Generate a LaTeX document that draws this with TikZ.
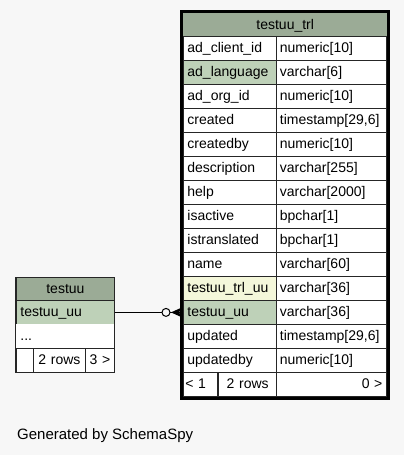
\documentclass[tikz,border=0pt]{standalone}
\usepackage{fontspec}
\setmainfont{Liberation Sans}
\definecolor{bg}{HTML}{F7F7F7}
\definecolor{hdr}{HTML}{9BAB96}
\definecolor{pk}{HTML}{BED1B8}
\definecolor{ex}{HTML}{F4F7DA}
\newcommand\fs{\fontsize{14bp}{16bp}\selectfont}
\newcommand\tabrow[5]{%
  \node[lcell,fill=#5] (#1n) at (183,#2) {#3};
  \node[rcell] (#1t) at (275.5,#2) {#4};}
\begin{document}
\begin{tikzpicture}[x=1bp,y=-1bp,
  cellbase/.style={draw=black!85, line width=0.8bp, minimum height=24bp, inner xsep=4bp, inner ysep=0pt,
    text height=11bp, text depth=2bp, anchor=north west, font=\fs, fill=white},
  lcell/.style={cellbase, text width=84.5bp, align=left},
  rcell/.style={cellbase, text width=102.5bp, align=left},
  hdrcell/.style={fill=hdr, inner sep=0pt, anchor=north west, font=\fs, text height=11bp, text depth=2bp},
  outline/.style={draw=black, line width=3bp},
  thinoutline/.style={draw=black!85, line width=1bp}
]
\fill[bg] (0,0) rectangle (404,455);
\useasboundingbox (0,0) rectangle (404,455);

% main table
\node[hdrcell, minimum width=204bp, minimum height=23bp] (trl) at (183,13) {testuu\_trl};
\tabrow{r1}{36}{ad\_client\_id}{numeric[10]}{white}
\tabrow{r2}{60}{ad\_language}{varchar[6]}{pk}
\tabrow{r3}{84}{ad\_org\_id}{numeric[10]}{white}
\tabrow{r4}{108}{created}{timestamp[29,6]}{white}
\tabrow{r5}{132}{createdby}{numeric[10]}{white}
\tabrow{r6}{156}{description}{varchar[255]}{white}
\tabrow{r7}{180}{help}{varchar[2000]}{white}
\tabrow{r8}{204}{isactive}{bpchar[1]}{white}
\tabrow{r9}{228}{istranslated}{bpchar[1]}{white}
\tabrow{r10}{252}{name}{varchar[60]}{white}
\tabrow{r11}{276}{testuu\_trl\_uu}{varchar[36]}{ex}
\tabrow{muu}{300}{testuu\_uu}{varchar[36]}{pk}
\tabrow{r13}{324}{updated}{timestamp[29,6]}{white}
\tabrow{r14}{348}{updatedby}{numeric[10]}{white}
\node[cellbase, text width=30bp, inner xsep=2bp, align=left] (mf1) at (183,372) {< 1};
\node[cellbase, text width=50.5bp, align=center] (mf2) at (218,372) {2 rows};
\node[rcell, align=right] (mf3) at (275.5,372) {0 >};
\draw[outline] (181.5,11.5) rectangle (388.5,398);

% testuu table
\node[hdrcell, draw=black!85, line width=0.8bp, minimum width=98bp, minimum height=23bp] (tu) at (16,277) {testuu};
\node[cellbase, fill=pk, text width=90bp, align=left] (tuu) at (16,300) {testuu\_uu};
\node[cellbase, draw=none, text width=90bp, align=left] (tdots) at (16,324) {...};
\node[cellbase, text width=9bp] (tf1) at (16,348) {};
\node[cellbase, text width=44bp, align=center] (tf2) at (33,348) {2 rows};
\node[cellbase, text width=21bp, inner xsep=4bp, align=center] (tf3) at (85,348) {3 >};
\draw[thinoutline] (15.5,277.5) rectangle (114.5,372.5);

% connector
\coordinate (e) at (tuu.east -| muun.west);
\draw[line width=1bp] (tuu.east) -- (e);
\draw[line width=1bp, fill=bg] ([xshift=-17bp]e) circle (4bp);
\fill ([xshift=-12bp]e) -- ([xshift=-1bp,yshift=5bp]e) -- ([xshift=-4bp]e) -- ([xshift=-1bp,yshift=-5bp]e) -- cycle;

\node[anchor=base west, inner sep=0pt, font=\fontsize{15bp}{17bp}\selectfont] (gen) at (17,439) {Generated by SchemaSpy};
\end{tikzpicture}
\end{document}
